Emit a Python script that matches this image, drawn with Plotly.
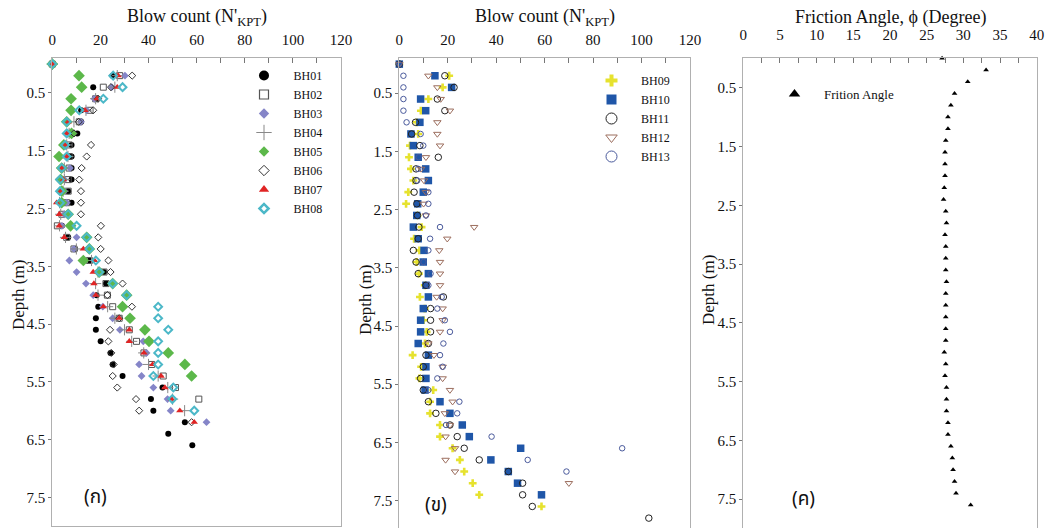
import plotly.graph_objects as go

# Sampling depths (m), every 0.2 m
DEPTH = [0.0, 0.2, 0.4, 0.6, 0.8, 1.0, 1.2, 1.4, 1.6, 1.8,
         2.0, 2.2, 2.4, 2.6, 2.8, 3.0, 3.2, 3.4, 3.6, 3.8,
         4.0, 4.2, 4.4, 4.6, 4.8, 5.0, 5.2, 5.4, 5.6, 5.8,
         6.0, 6.2, 6.4, 6.6, 6.8, 7.0, 7.2, 7.4, 7.6, 7.8]

# Blow counts N'KPT, group 1
BH01 = [0, 25, 17, 18, 12, 12, 10.4, 8, 8, 8, 8, 6.6, 8, 6, 4, 6.6, 9.4, 15.6, 21.5, 22.3,
        18.4, 19.1, 18.1, 18.1, 20.1, 24.2, 25.1, 29.2, 45.8, 41, 42, 55.1, 48.2, 58.2]
BH02 = [0, 28, 21.2, 18, 15.7, 11.2, 8, 7, 7, 7, 6.6, 6.6, 6, 4, 2.1, 6, 9, 15.4, 21.5, 22.3,
        22.9, 25.1, 27.8, 32, 35, 38.1, 41.3, 46.1, 51.2, 60.9]
BH03 = [0, 30.2, 24.7, 17.5, 14.3, 11.9, 6.5, 5.5, 6, 7.3, 5, 5, 6, 5, 4, 10.1, 9, 7.1, 10.1, 14,
        17, 21, 25.1, 28.1, 37.8, 39.2, 36.1, 37.1, 42, 47.9, 49.2, 64.1]
BH04 = [0, 27, 26, 18, 14, 9, 7, 6, 6.5, 5, 5, 4.5, 3, 3.5, 3, 5.5, 10, 16.3, 19, 18,
        19, 23, 26, 30, 33, 38, 40, 44, 48, 50, 55]
BH05 = [0, 11.1, 12.2, 7.8, 7.8, 6, 8, 4.8, 2.8, 3.9, 3.5, 3.9, 3.9, 6.6, 7.6, 14.3, 15.4, 12.9, 19.5, 25.1,
        30.9, 29.2, 32.3, 38.5, 40.2, 48.2, 55.1, 57.9]
BH06 = [0, 33.2, 24.4, 19, 17, 11, 9, 16.1, 14.3, 12.2, 11.2, 11.9, 11.9, 11.9, 20.2, 19.1, 20.1, 23.3, 24.2, 29.2,
        22.9, 33.1, 27.8, 24, 23.3, 24.5, 25.5, 25.1, 27, 34.8, 36.1, 57.9]
BH07 = [0, 27.4, 27, 18.6, 13.6, 6.6, 6, 5.5, 6, 4, 4.6, 3.5, 1.8, 2.9, 2.9, 5.0, 12.9, 17.5, 17, 17.3,
        18.1, 21.2, 27.8, 32, 32, 38.1, 41.7, 45.2, 46.8, 49.5, 53, 59]
BH08 = [0, 25.3, 29.2, 21.2, 11.2, 6, 6, 5.3, 6, 3.9, 3.2, 3.2, 3.2, 6.6, 10.1, 14.3, 15.4, 18.1, 19.5, 25.1,
        30.9, 44, 44, 48.2, 44, 44, 44, 42, 50.3, 49.9, 59]

# Blow counts N'KPT, group 2
BH09 = [0, 20.6, 17.9, 12, 8.9, 7.2, 7.8, 4.4, 4.0, 4.8, 5.8, 3.7, 2.8, 7.5, 9.2, 6.1, 8.3, 7.2, 8.1, 10.5,
        8.5, 10.5, 10, 11.3, 10.6, 5.5, 9, 8.3, 14, 12.7, 12.7, 16.8, 16.8, 22, 25, 26.8, 30.3, 33, 58.7]
BH10 = [0, 14.7, 21.6, 8.8, 10.9, 8.5, 4.8, 5.8, 7.8, 10.9, 12, 9.9, 7.6, 7.2, 5.8, 7.8, 10.2, 9.9, 12, 11,
        12, 9.9, 8.8, 8.8, 7.8, 12, 11, 11, 10.6, 16.8, 20.9, 26, 28.9, 50.1, 37.8, 45, 48.8, 58.7]
BH11 = [0, 18.8, 22.6, 15.7, 18.8, 6.7, 5.1, 8.5, 16.1, 6.9, 6.9, 6.1, 7.2, 7.5, 8.1, 7.8, 5.8, 6.9, 7.8, 11,
        18.2, 12.9, 12.9, 12.9, 12, 11, 9.9, 8.8, 9.9, 12, 15.1, 20.9, 23.9, 26.8, 33, 45, 50.9, 50.9, 54.9, 103]
BH12 = [0, 12, 15.7, 17.1, 20.9, 15.7, 15.7, 16.8, 11, 9, 10.2, 11, 10, 11, 30.9, 19.8, 16.5, 16.8, 16.8, 16.8,
        15.4, 17.9, 17.9, 16.8, 12, 14.3, 17.9, 17.9, 20.9, 22, 18.8, 20.9, 19.1, 23, 19.1, 23, 70]
BH13 = [0, 1.7, 1.7, 1.7, 1.7, 3, 8.8, 9.9, 8, 7.8, 7.4, 12, 12, 11, 16.8, 12.7, 12, 10, 12.9, 12,
        17.5, 15.7, 18.8, 20.9, 18.2, 16.8, 17.9, 15.7, 12, 24.8, 23.9, 19.3, 38.1, 92, 53, 69]

# Friction angle (degree)
PHI = [27.1, 33.1, 30.6, 28.8, 28.3, 27.9, 27.9, 27.6, 27.5, 27.5, 27.5, 27.4, 27.3, 27.6, 27.7, 27.5, 27.6, 27.6,
       27.6, 27.7, 27.6, 27.6, 27.6, 27.6, 27.6, 27.4, 27.6, 27.5, 27.7, 27.7, 27.7, 27.9, 27.9, 28.3, 28.5, 28.6,
       28.8, 29.0, 31.0]

SERIF = "Liberation Serif, Times New Roman, serif"
W, H = 1050, 528

# name, values, data marker, legend marker
GROUP1 = [
    ("BH01", BH01, dict(symbol="circle", size=6, color="#000000"),
     dict(symbol="circle", size=10, color="#000000")),
    ("BH02", BH02, dict(symbol="square-open", size=6, color="#555555", line=dict(width=1)),
     dict(symbol="square-open", size=9, color="#555555", line=dict(width=1.2))),
    ("BH03", BH03, dict(symbol="diamond", size=6, color="#8585c8"),
     dict(symbol="diamond", size=8, color="#8585c8")),
    ("BH04", BH04, dict(symbol="cross-thin-open", size=8, color="#888888", line=dict(width=1)),
     dict(symbol="cross-thin-open", size=11, color="#888888", line=dict(width=1))),
    ("BH05", BH05, dict(symbol="diamond", size=9, color="#5cb84a"),
     dict(symbol="diamond", size=8, color="#5cb84a")),
    ("BH06", BH06, dict(symbol="diamond-open", size=5.5, color="#333333", line=dict(width=1)),
     dict(symbol="diamond-open", size=8, color="#333333", line=dict(width=1))),
    ("BH07", BH07, dict(symbol="triangle-up", size=6.5, color="#e02424"),
     dict(symbol="triangle-up", size=9, color="#e02424")),
    ("BH08", BH08, dict(symbol="diamond-open", size=6, color="#4cb8c8", line=dict(width=2)),
     dict(symbol="diamond-open", size=7, color="#4cb8c8", line=dict(width=2.5))),
]
GROUP2 = [
    ("BH09", BH09, dict(symbol="cross", size=6.5, color="#e6e22e"),
     dict(symbol="cross", size=10, color="#e6e22e")),
    ("BH10", BH10, dict(symbol="square", size=7.5, color="#1f56a8"),
     dict(symbol="square", size=10, color="#1f56a8")),
    ("BH11", BH11, dict(symbol="circle-open", size=6.5, color="#222222", line=dict(width=1)),
     dict(symbol="circle-open", size=11, color="#222222", line=dict(width=1))),
    ("BH12", BH12, dict(symbol="triangle-down-open", size=6.5, color="#9c6e5e", line=dict(width=1)),
     dict(symbol="triangle-down-open", size=10, color="#9c6e5e", line=dict(width=1))),
    ("BH13", BH13, dict(symbol="circle-open", size=5.5, color="#4a5a9c", line=dict(width=1)),
     dict(symbol="circle-open", size=11, color="#4a5a9c", line=dict(width=1))),
]

fig = go.Figure()


def add_group(group, xa, ya, legend_id):
    for name, vals, mk, lmk in group:
        fig.add_trace(go.Scatter(x=vals, y=DEPTH[:len(vals)], mode="markers", marker=mk,
                                 name=name, showlegend=False, cliponaxis=False,
                                 xaxis=xa, yaxis=ya))
    # legend keys are drawn a little larger than the data markers
    for name, vals, mk, lmk in group:
        fig.add_trace(go.Scatter(x=[None], y=[None], mode="markers", marker=lmk,
                                 name=name, showlegend=True, legend=legend_id,
                                 xaxis=xa, yaxis=ya))


add_group(GROUP1, "x", "y", "legend")
add_group(GROUP2, "x2", "y2", "legend2")

fig.add_trace(go.Scatter(x=PHI, y=DEPTH[:len(PHI)], mode="markers",
                         marker=dict(symbol="triangle-up", size=5, color="#000000"),
                         name="Frition Angle", showlegend=False, cliponaxis=False,
                         xaxis="x3", yaxis="y3"))
fig.add_trace(go.Scatter(x=[None], y=[None], mode="markers",
                         marker=dict(symbol="triangle-up", size=10, color="#000000"),
                         name="Frition Angle", showlegend=True, legend="legend3",
                         xaxis="x3", yaxis="y3"))


def px_x(p):
    return p / W


def px_y(p):
    return 1 - p / H


tickfont = dict(family=SERIF, size=15, color="#111111")
frame = dict(showline=True, linecolor="#b0b0b0", linewidth=1, mirror=True,
             showgrid=False, zeroline=False, automargin=False)


def xaxis(dom, rng, dtick, minor, anchor, standoff):
    return dict(domain=dom, range=rng, side="top", anchor=anchor, tick0=0, dtick=dtick,
                ticks="inside", ticklen=5, tickcolor="#777777", tickwidth=1,
                minor=dict(dtick=minor, ticks="inside", ticklen=5, tickcolor="#777777"),
                tickfont=tickfont, ticklabelstandoff=standoff, **frame)


def yaxis(dom, rng, anchor):
    return dict(domain=dom, range=rng, anchor=anchor,
                tickvals=[0.5, 1.5, 2.5, 3.5, 4.5, 5.5, 6.5, 7.5],
                ticktext=["0.5", "1.5", "2.5", "3.5", "4.5", "5.5", "6.5", "7.5"],
                ticks="outside", ticklen=3, tickcolor="#777777",
                tickfont=tickfont, **frame)


def legend_style(size, x, y):
    return dict(bgcolor="rgba(0,0,0,0)", borderwidth=0, itemsizing="trace",
                font=dict(family=SERIF, size=size, color="#111111"),
                tracegroupgap=0, itemwidth=49, xanchor="left", yanchor="top",
                x=px_x(x), y=px_y(y))


fig.update_layout(
    width=W, height=H,
    margin=dict(l=0, r=0, t=0, b=0, autoexpand=False),
    paper_bgcolor="white", plot_bgcolor="white",
    xaxis=xaxis([px_x(52.3), px_x(341)], [0, 120], 20, 10, "y", 6),
    yaxis=yaxis([px_y(526.2), px_y(58.3)], [8.0, -0.1], "x"),
    xaxis2=xaxis([px_x(399.3), px_x(690)], [0, 120], 20, 10, "y2", 6),
    yaxis2=yaxis([0, px_y(58.3)], [7.97, -0.1], "x2"),
    xaxis3=xaxis([px_x(743.3), px_x(1036.7)], [0, 40], 5, 2.5, "y3", 11),
    yaxis3=yaxis([0, px_y(58.3)], [7.99, 0], "x3"),
    legend=legend_style(12, 234.5, 61),
    legend2=legend_style(12, 582, 66),
    legend3=legend_style(13, 765, 79),
    showlegend=True,
)

title_font = dict(family=SERIF, size=18, color="#111111")
annotations = [
    dict(x=px_x(196.7), y=px_y(17), text="Blow count (N'<sub>KPT</sub>)"),
    dict(x=px_x(544.5), y=px_y(17), text="Blow count (N'<sub>KPT</sub>)"),
    dict(x=px_x(890), y=px_y(17), text="Friction Angle, \u03d5 (Degree)"),
]
for a in annotations:
    fig.add_annotation(xref="paper", yref="paper", showarrow=False,
                       xanchor="center", yanchor="middle", font=title_font, **a)

for xp, yp in [(18, 295), (365, 300), (708, 290)]:
    fig.add_annotation(xref="paper", yref="paper", x=px_x(xp), y=px_y(yp), text="Depth (m)",
                       textangle=-90, showarrow=False, xanchor="center", yanchor="middle",
                       font=dict(family=SERIF, size=17, color="#111111"))

for txt, xp, yp in [("(ก)", 95.5, 497), ("(ข)", 435.5, 505), ("(ค)", 803, 499)]:
    fig.add_annotation(xref="paper", yref="paper", x=px_x(xp), y=px_y(yp), text=txt,
                       showarrow=False, xanchor="center", yanchor="middle",
                       font=dict(family="Noto Sans Thai, Noto Sans, DejaVu Sans, sans-serif",
                                 size=19, color="#111111"))

fig.write_html("out.html")
